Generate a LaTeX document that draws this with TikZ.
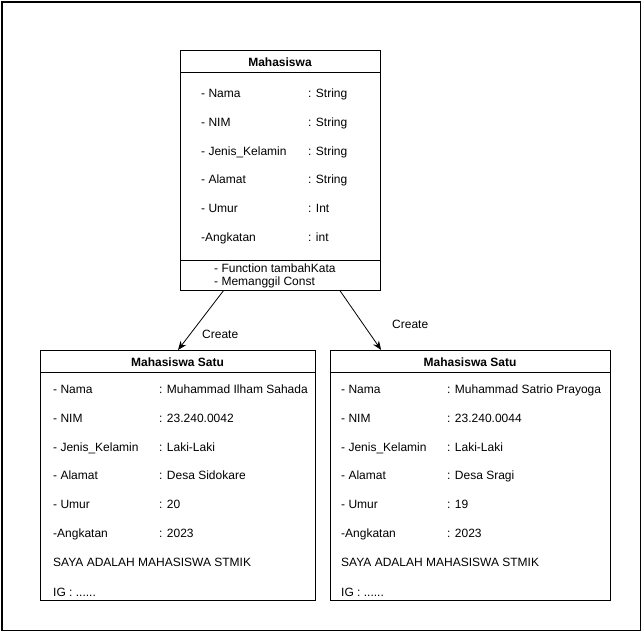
\documentclass[tikz,border=0pt]{standalone}
\usepackage{fontspec}
\setmainfont{Liberation Sans}
\usetikzlibrary{arrows.meta,calc}
\begin{document}
\begin{tikzpicture}[x=1pt,y=-1pt,
  boxshape/.style={draw,line width=1pt,inner sep=0pt,anchor=north west},
  txt/.style={anchor=base west,inner sep=0pt,font=\fontsize{12}{14}\selectfont},
  hdr/.style={inner sep=0pt,font=\fontsize{12}{14}\selectfont\bfseries},
  lbl/.style={anchor=base west,inner sep=0pt,font=\fontsize{12}{14}\selectfont},
  conn/.style={-{Stealth[length=9pt,width=7pt]},line width=0.8pt}]
\useasboundingbox (0,0) rectangle (641,631);
\node[boxshape,line width=1.6pt,minimum width=638.5pt,minimum height=628.5pt] (frame) at (1,1) {};

% Mahasiswa
\node[boxshape,minimum width=200pt,minimum height=240pt] (m) at (180,50) {};
\draw[line width=1pt] ([yshift=-23pt]m.north west) -- ([yshift=-23pt]m.north east);
\draw[line width=1pt] ([yshift=30pt]m.south west) -- ([yshift=30pt]m.south east);
\node[hdr] (mh) at (280,62.5) {Mahasiswa};
\foreach \i/\a/\b in {0/- Nama/: String,1/- NIM/: String,2/- Jenis\_Kelamin/: String,3/- Alamat/: String,4/- Umur/: Int,5/-Angkatan/: int}{
  \node[txt] (ma\i) at (201,97.8+28.7*\i) {\a};
  \node[txt] (mb\i) at (308,97.8+28.7*\i) {\b};
}
\node[txt] (mf1) at (214,273) {- Function tambahKata};
\node[txt] (mf2) at (214,286) {- Memanggil Const};

% Left object
\node[boxshape,minimum width=275pt,minimum height=250pt] (s1) at (40,350) {};
\draw[line width=1pt] ([yshift=-23pt]s1.north west) -- ([yshift=-23pt]s1.north east);
\node[hdr] (s1h) at (177.5,362.2) {Mahasiswa Satu};
\foreach \i/\a/\b in {0/- Nama/: Muhammad Ilham Sahada,1/- NIM/: 23.240.0042,2/- Jenis\_Kelamin/: Laki-Laki,3/- Alamat/: Desa Sidokare,4/- Umur/: 20,5/-Angkatan/: 2023}{
  \node[txt] (la\i) at (53,393.5+28.8*\i) {\a};
  \node[txt] (lb\i) at (159,393.5+28.8*\i) {\b};
}
\node[txt] (ls) at (53,566.5) {SAYA ADALAH MAHASISWA STMIK};
\node[txt] (lig) at (53,596) {IG : ......};

% Right object
\node[boxshape,minimum width=280pt,minimum height=250pt] (s2) at (330,350) {};
\draw[line width=1pt] ([yshift=-23pt]s2.north west) -- ([yshift=-23pt]s2.north east);
\node[hdr] (s2h) at (470,362.2) {Mahasiswa Satu};
\foreach \i/\a/\b in {0/- Nama/: Muhammad Satrio Prayoga,1/- NIM/: 23.240.0044,2/- Jenis\_Kelamin/: Laki-Laki,3/- Alamat/: Desa Sragi,4/- Umur/: 19,5/-Angkatan/: 2023}{
  \node[txt] (ra\i) at (341,393.5+28.8*\i) {\a};
  \node[txt] (rb\i) at (447,393.5+28.8*\i) {\b};
}
\node[txt] (rs) at (341,566.5) {SAYA ADALAH MAHASISWA STMIK};
\node[txt] (rig) at (341,596) {IG : ......};

% Connectors
\draw[conn] ($(m.south west)!0.215!(m.south east)$) -- ($(s1.north west)!0.5!(s1.north east)$);
\draw[conn] ($(m.south west)!0.797!(m.south east)$) -- ($(s2.north west)!0.182!(s2.north east)$);
\node[lbl] (c1) at (202,339) {Create};
\node[lbl] (c2) at (392,329) {Create};
\end{tikzpicture}
\end{document}
